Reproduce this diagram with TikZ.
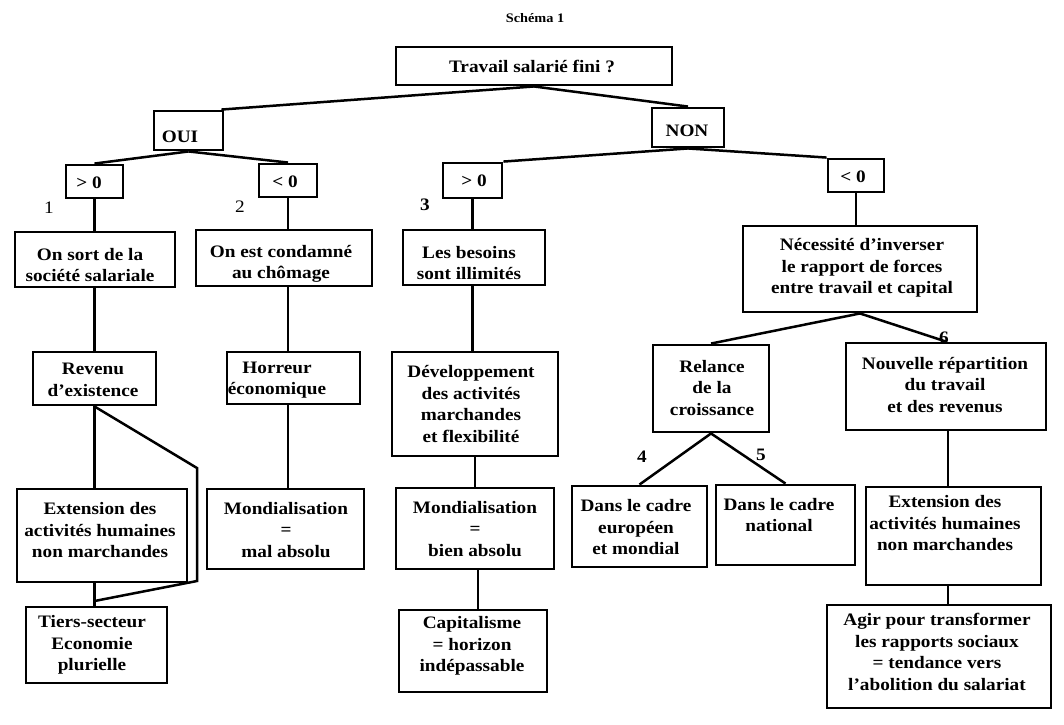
\documentclass[tikz,border=0pt]{standalone}
\usepackage{fontspec}
\setmainfont{Liberation Serif}[FakeStretch=1.1]
\newcommand\bxt[8]{%
  \node[box,minimum width=#4pt,minimum height=#5pt] (#1) at (#2,#3) {};
  \node[txt] (#1-t) at (#6,#7) {#8};}
\begin{document}
\begin{tikzpicture}[x=1pt,y=-1pt,
  box/.style={draw,line width=2.9pt,inner sep=0pt,rectangle},
  txt/.style={inner sep=0pt,align=center,font=\fontsize{17.5}{21.5}\selectfont\bfseries},
  num/.style={inner sep=0pt,font=\fontsize{17.5}{20}\selectfont\bfseries},
  numr/.style={inner sep=0pt,font=\fontsize{17.5}{20}\selectfont},
  conn/.style={line width=2.5pt}]
\useasboundingbox[fill=white] (0,0) rectangle (1064,724);
\node[inner sep=0pt,font=\fontsize{13}{15}\selectfont\bfseries] (title) at (535,18) {Schéma 1};

\bxt{top}{534}{66}{276}{38}{532}{66}{Travail salarié fini ?}
\bxt{oui}{188.5}{130.5}{69}{39}{180}{137}{OUI}
\bxt{non}{688}{127.5}{72}{39}{687}{131}{NON}
\bxt{gta}{94.5}{181.5}{57}{33}{89}{183}{> 0}
\bxt{lta}{288}{180.5}{58}{33}{285}{182}{< 0}
\bxt{gtb}{472.5}{180.5}{59}{35}{474}{181}{> 0}
\bxt{ltb}{856}{175.5}{56}{33}{853}{177}{< 0}

\bxt{A}{95}{259.5}{160}{55}{90}{265}{On sort de la\\société salariale}
\bxt{B}{284}{258}{176}{56}{281}{264}{On est condamné\\au chômage}
\bxt{C}{474}{257.5}{142}{55}{469}{263}{Les besoins\\sont illimités}
\bxt{D}{860}{269}{234}{86}{862}{268}{Nécessité d’inverser\\le rapport de forces\\entre travail et capital}
\bxt{rev}{94.5}{378.5}{123}{53}{93}{380}{Revenu\\d’existence}
\bxt{hor}{293.5}{378}{133}{52}{277}{380}{Horreur\\économique}
\bxt{dev}{475}{404}{166}{104}{471}{404}{Développement\\des activités\\marchandes\\et flexibilité}
\bxt{rel}{711}{388.5}{116}{87}{712}{388}{Relance\\de la\\croissance}
\bxt{nou}{946}{386.5}{200}{87}{945}{385}{Nouvelle répartition\\du travail\\et des revenus}
\bxt{extl}{102}{535.5}{170}{93}{100}{530}{Extension des\\activités humaines\\non marchandes}
\bxt{mal}{285.5}{529}{157}{80}{286}{530}{Mondialisation\\=\\mal absolu}
\bxt{bien}{475}{528.5}{158}{81}{475}{529}{Mondialisation\\=\\bien absolu}
\bxt{deu}{639.5}{526.5}{135}{81}{636}{527}{Dans le cadre\\européen\\et mondial}
\bxt{dnat}{785.5}{525}{139}{80}{779}{515}{Dans le cadre\\national}
\bxt{extr}{953.5}{536}{175}{98}{945}{523}{Extension des\\activités humaines\\non marchandes}
\bxt{tiers}{96.5}{645}{141}{76}{92}{645}{Tiers-secteur\\Economie\\plurielle}
\bxt{cap}{473}{651}{148}{82}{472}{646}{Capitalisme\\= horizon\\indépassable}
\bxt{agir}{939}{656.5}{224}{103}{937}{652}{Agir pour transformer\\les rapports sociaux\\= tendance vers\\l’abolition du salariat}

\node[numr] (n1) at (49,208) {1};
\node[numr] (n2) at (240,207) {2};
\node[num] (n3) at (425,205) {3};
\node[num] (n4) at (642,457) {4};
\node[num] (n5) at (761,455) {5};
\node[num] (n6) at (944,338) {6};

\coordinate (k1) at (197,468);
\coordinate (k2) at (197,581);
\coordinate (k3) at (94.5,601);
\coordinate (bx) at (478,0);
\coordinate (rx) at (948,0);

\draw[conn] (top.south) -- ([xshift=-3pt]oui.north east);
\draw[conn] (top.south) -- (non.north);
\draw[conn] (oui.south) -- (gta.north);
\draw[conn] (oui.south) -- (lta.north);
\draw[conn] (non.south) -- (gtb.north east);
\draw[conn] (non.south) -- (ltb.north west);
\draw[conn] (gta.south) -- (gta.south |- A.north);
\draw[conn] (lta.south) -- (lta.south |- B.north);
\draw[conn] (gtb.south) -- (gtb.south |- C.north);
\draw[conn] (ltb.south) -- (ltb.south |- D.north);
\draw[conn] (rev.north) -- (rev.north |- A.south);
\draw[conn] (lta.south |- B.south) -- (lta.south |- hor.north);
\draw[conn] (gtb.south |- C.south) -- (gtb.south |- dev.north);
\draw[conn] (D.south) -- (rel.north);
\draw[conn] (D.south) -- (nou.north);
\draw[conn] (rev.south) -- (rev.south |- extl.north);
\draw[conn] (rev.south) -- (k1) -- (k2) -- (k3);
\draw[conn] (rev.south |- extl.south) -- (rev.south |- tiers.north);
\draw[conn] (lta.south |- hor.south) -- (lta.south |- mal.north);
\draw[conn] (dev.south) -- (dev.south |- bien.north);
\draw[conn] (bx |- bien.south) -- (bx |- cap.north);
\draw[conn] (rel.south) -- (deu.north);
\draw[conn] (rel.south) -- (dnat.north);
\draw[conn] (rx |- nou.south) -- (rx |- extr.north);
\draw[conn] (rx |- extr.south) -- (rx |- agir.north);
\end{tikzpicture}
\end{document}
